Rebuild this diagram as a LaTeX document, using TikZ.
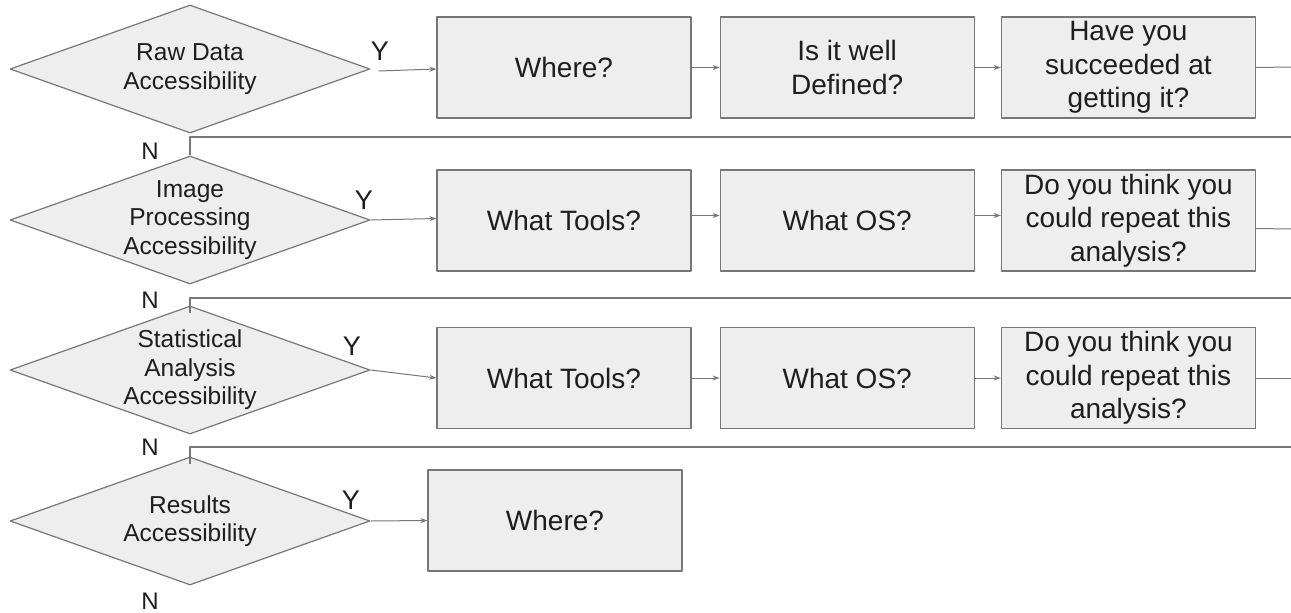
\documentclass[tikz,border=0pt]{standalone}
\usepackage{fontspec}
\setmainfont{Liberation Sans}
\usetikzlibrary{shapes.geometric,arrows.meta,positioning}
\definecolor{edge}{HTML}{777777}
\definecolor{boxfill}{HTML}{EEEEEE}
\definecolor{ink}{HTML}{1E1E1E}
\begin{document}
\begin{tikzpicture}[x=1pt,y=-1pt, line join=round, >={Stealth[length=7pt,width=5pt]},
	decision/.style={diamond, draw=edge, fill=boxfill, line width=1.2pt, minimum width=360pt, minimum height=128pt, aspect=2.8125, inner sep=0pt, align=center, text=ink, font=\fontsize{24.5}{28.5}\selectfont},
	question/.style={rectangle, draw=edge, fill=boxfill, line width=1.2pt, minimum width=254pt, minimum height=101pt, inner sep=0pt, align=center, text=ink, font=\fontsize{28}{33.5}\selectfont},
	ylbl/.style={text=ink, inner sep=0pt, font=\fontsize{27}{27}\selectfont},
	nlbl/.style={text=ink, inner sep=0pt, font=\fontsize{24}{24}\selectfont},
	link/.style={draw=edge, line width=1.5pt},
	flow/.style={draw=edge, line width=1pt}]
	\useasboundingbox (0,0) rectangle (1291,613);
	% decisions
	\node[decision] (d1) at (190,69) {Raw Data\\Accessibility};
	\node[decision] (d2) at (190,220) {Image\\Processing\\Accessibility};
	\node[decision] (d3) at (190,370) {Statistical\\Analysis\\Accessibility};
	\node[decision] (d4) at (190,521) {Results\\Accessibility};
	% questions
	\node[question] (b11) at (564,67.5) {Where?};
	\node[question, right=28pt of b11] (b12) {Is it well\\Defined?};
	\node[question, right=26pt of b12] (b13) {Have you\\succeeded at\\getting it?};
	\node[question] (b21) at (564,220.5) {What Tools?};
	\node[question, right=28pt of b21] (b22) {What OS?};
	\node[question, right=26pt of b22] (b23) {Do you think you\\could repeat this\\analysis?};
	\node[question] (b31) at (564,378) {What Tools?};
	\node[question, right=28pt of b31] (b32) {What OS?};
	\node[question, right=26pt of b32] (b33) {Do you think you\\could repeat this\\analysis?};
	\node[question] (b41) at (555,520.5) {Where?};
	% Y / N
	\node[ylbl] (y1) at (380,51) {Y};
	\node[ylbl] (y2) at (364,200) {Y};
	\node[ylbl] (y3) at (352,346) {Y};
	\node[ylbl] (y4) at (351,500) {Y};
	\node[nlbl] (n1) at (150,151) {N};
	\node[nlbl] (n2) at (150,300) {N};
	\node[nlbl] (n3) at (150,447) {N};
	\node[nlbl] (n4) at (150,601) {N};
	% free ends at the right border
	\coordinate (r1) at (1291,67);
	\coordinate (r2) at (1291,229);
	\coordinate (r3) at (1291,378);
	\coordinate (l1) at (1291,137);
	\coordinate (l2) at (1291,298);
	\coordinate (l3) at (1291,447);
	% yes arrows
	\draw[flow,->] ([xshift=8pt,yshift=-2pt]d1.east) -- ([yshift=-1.5pt]b11.west);
	\draw[flow,->] (d2.east) -- ([yshift=2pt]b21.west);
	\draw[flow,->] (d3.east) -- (b31.west);
	\draw[flow,->] (d4.east) -- (b41.west);
	\draw[flow,->] (b11) -- (b12);
	\draw[flow,->] (b12) -- (b13);
	\draw[flow,->] ([yshift=5pt]b21.east) -- ([yshift=5pt]b22.west);
	\draw[flow,->] ([yshift=5pt]b22.east) -- ([yshift=5pt]b23.west);
	\draw[flow,->] (b31) -- (b32);
	\draw[flow,->] (b32) -- (b33);
	\draw[flow] (b13.east) -- (r1);
	\draw[flow] ([yshift=-8pt]b23.east) -- (r2);
	\draw[flow] (b33.east) -- (r3);
	% no links
	\draw[link] (l1) -| (d2.north);
	\draw[link] (l2) -| ([yshift=-8pt]d3.north);
	\draw[link] (l3) -| ([yshift=-8pt]d4.north);
\end{tikzpicture}
\end{document}
